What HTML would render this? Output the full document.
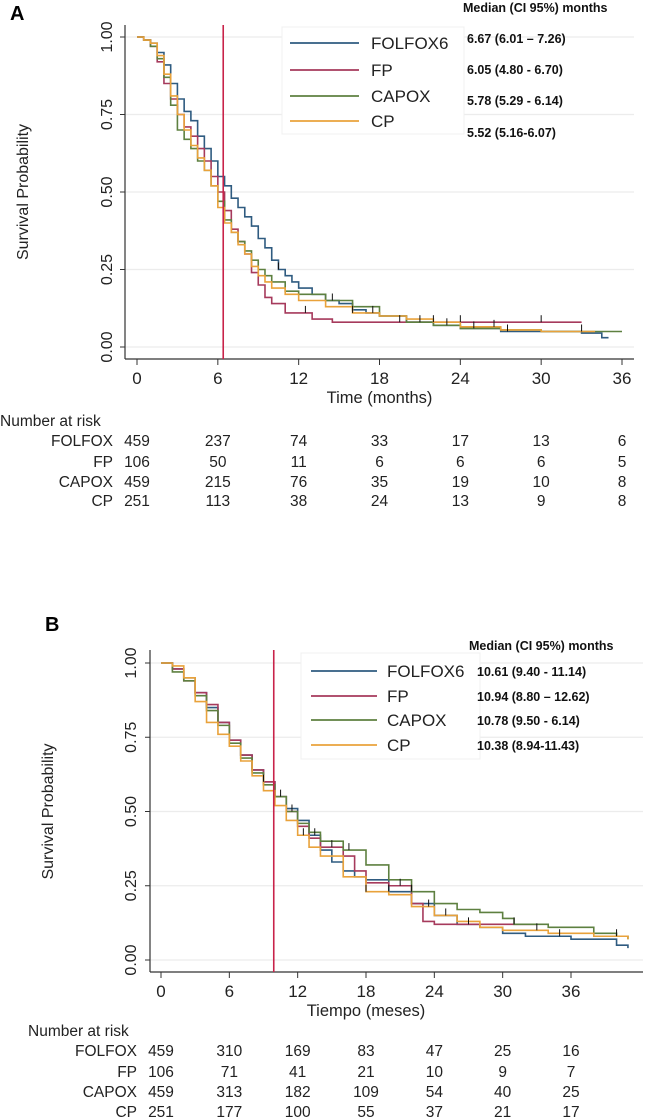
<!DOCTYPE html>
<html><head><meta charset="utf-8">
<style>
html,body{margin:0;padding:0;background:#fff;}
svg{display:block;font-family:"Liberation Sans",Arial,sans-serif;}
</style></head>
<body>
<svg id="fig" width="646" height="1119" viewBox="0 0 646 1119" xmlns="http://www.w3.org/2000/svg"></svg>
<script>
// ---------- DATA ----------
const seriesNames = ["FOLFOX6","FP","CAPOX","CP"];
const riskNames = ["FOLFOX","FP","CAPOX","CP"];
const colors = ["#2f5b80","#a63a5c","#5e8040","#e9a23b"];

const xTicksA = [0,6,12,18,24,30,36];
const yTicks = [0,0.25,0.5,0.75,1];
const yTickLabels = ["0.00","0.25","0.50","0.75","1.00"];

const aFolfoxT = [0,0.5,1,1.5,2,2.5,3,3.5,4,4.5,5,5.5,6,6.5,7,7.5,8,8.5,9,9.5,10,10.5,11,11.5,12,13,14,15,16,17,18,20,22,24,27,30,33,34.5,35];
const aFolfoxS = [1,0.99,0.98,0.95,0.91,0.85,0.80,0.76,0.73,0.68,0.64,0.60,0.55,0.52,0.48,0.45,0.42,0.39,0.35,0.32,0.28,0.25,0.23,0.21,0.19,0.17,0.15,0.14,0.12,0.11,0.10,0.08,0.07,0.06,0.05,0.05,0.045,0.03,0.03];
const aFpT = [0,0.5,1,1.5,2,2.5,3,3.5,4,4.5,5,5.5,6,6.5,7,7.5,8,8.5,9,9.5,10,11,12,13,14.5,33];
const aFpS = [1,0.99,0.97,0.92,0.85,0.80,0.75,0.71,0.68,0.64,0.60,0.55,0.50,0.44,0.38,0.34,0.30,0.24,0.20,0.16,0.14,0.11,0.11,0.09,0.08,0.08];
const aCapoxT = [0,0.5,1,1.5,2,2.5,3,3.5,4,4.5,5,5.5,6,6.5,7,7.5,8,8.5,9,9.5,10,11,12,14,16,18,20,22,24,27,30,36];
const aCapoxS = [1,0.99,0.97,0.93,0.87,0.78,0.70,0.67,0.64,0.60,0.57,0.52,0.47,0.41,0.37,0.34,0.31,0.28,0.25,0.23,0.21,0.18,0.17,0.15,0.13,0.10,0.08,0.07,0.06,0.055,0.05,0.05];
const aCpT = [0,0.5,1,1.5,2,2.5,3,3.5,4,4.5,5,5.5,6,6.5,7,7.5,8,8.5,9,9.5,10,11,12,14,16,18,20,22,24,27,30,34];
const aCpS = [1,0.99,0.98,0.94,0.88,0.81,0.75,0.70,0.65,0.61,0.57,0.52,0.45,0.40,0.37,0.33,0.30,0.26,0.23,0.21,0.19,0.17,0.15,0.13,0.11,0.10,0.09,0.08,0.065,0.055,0.05,0.05];
const aMedians = ["6.67 (6.01 \u2013 7.26)","6.05 (4.80 - 6.70)","5.78 (5.29 - 6.14)","5.52 (5.16-6.07)"];
const aRisk = [[459,237,74,33,17,13,6],[106,50,11,6,6,6,5],[459,215,76,35,19,10,8],[251,113,38,24,13,9,8]];
const aMedianLine = 6.4;
const aCensor = [10.5,12.5,14.5,16,17.5,19.5,21,22,23,24,25,26.5,27.5,30,33,35.5];

const xTicksB = [0,6,12,18,24,30,36];
const bFolfoxT = [0,1,2,3,4,5,6,7,8,9,10,11,12,13,14,15,16,17,18,20,22,24,26,28,30,32,36,40,41];
const bFolfoxS = [1,0.98,0.95,0.90,0.85,0.80,0.74,0.69,0.64,0.60,0.55,0.51,0.47,0.42,0.37,0.33,0.30,0.28,0.27,0.23,0.19,0.15,0.12,0.11,0.09,0.08,0.07,0.05,0.04];
const bFpT = [0,1,2,3,4,5,6,7,8,9,10,11,12,13,14,15,16,17,18,20,22,23,24,28,33];
const bFpS = [1,0.98,0.94,0.90,0.86,0.80,0.74,0.69,0.64,0.60,0.55,0.50,0.45,0.41,0.38,0.38,0.35,0.30,0.26,0.25,0.19,0.13,0.12,0.12,0.12];
const bCapoxT = [0,1,2,3,4,5,6,7,8,9,10,11,12,13,14,16,18,20,22,24,26,28,30,31,34,38,40,41];
const bCapoxS = [1,0.97,0.94,0.89,0.84,0.79,0.73,0.68,0.63,0.59,0.55,0.50,0.46,0.43,0.40,0.37,0.32,0.27,0.23,0.19,0.17,0.16,0.14,0.12,0.11,0.09,0.08,0.07];
const bCpT = [0,1,2,3,4,5,6,7,8,9,10,11,12,13,14,16,18,20,22,24,26,28,30,34,38,41];
const bCpS = [1,0.99,0.95,0.87,0.80,0.76,0.72,0.67,0.62,0.57,0.52,0.47,0.42,0.38,0.35,0.28,0.23,0.22,0.18,0.15,0.13,0.11,0.10,0.09,0.08,0.07];
const bMedians = ["10.61 (9.40 - 11.14)","10.94 (8.80 \u2013 12.62)","10.78 (9.50 - 6.14)","10.38 (8.94-11.43)"];
const bRisk = [[459,310,169,83,47,25,16],[106,71,41,21,10,9,7],[459,313,182,109,54,40,25],[251,177,100,55,37,21,17]];
const bMedianLine = 9.9;
const bCensor = [9,10.5,11.5,12.5,13.5,15,16.5,18,20,21,22,23.5,25,27,31,33,35,37,40];

// ---------- DRAWING ----------
const NS = "http://www.w3.org/2000/svg";
const svg = document.getElementById("fig");
function el(tag, attrs, parent, text){
  const e = document.createElementNS(NS, tag);
  for (const k in attrs) e.setAttribute(k, attrs[k]);
  if (text !== undefined) e.textContent = text;
  (parent || svg).appendChild(e);
  return e;
}
function stepSurvival(T, S, t){
  let v = S[0];
  for (let i=0;i<T.length;i++){ if (T[i] <= t) v = S[i]; }
  return v;
}

function panel(cfg){
  const g = el("g", {});
  
  
  const xs = t => cfg.x0 + t * cfg.pxPerMonth;
  const ys = s => cfg.y0 - s * cfg.pxPerUnit;

  const lbl = el("text", {x:cfg.letterX, y:cfg.letterY, "font-size":20, "font-weight":"bold", fill:"#000"}, g, cfg.letter);
  
  

  yTicks.forEach(v => {
    const gl = el("line", {x1:cfg.axisX, x2:cfg.axisRight, y1:ys(v), y2:ys(v), stroke:"#ececec", "stroke-width":1.2}, g);
    
    
  });
  const ya = el("line", {x1:cfg.axisX, x2:cfg.axisX, y1:cfg.axisTop, y2:cfg.axisBottom, stroke:"#333", "stroke-width":1.2}, g);
  
  
  const xa = el("line", {x1:cfg.axisX, x2:cfg.axisRight, y1:cfg.axisBottom, y2:cfg.axisBottom, stroke:"#333", "stroke-width":1.2}, g);
  
  

  yTicks.forEach((v,i) => {
    const tk = el("line", {x1:cfg.axisX-5, x2:cfg.axisX, y1:ys(v), y2:ys(v), stroke:"#333"}, g);
    
    
    const tx = el("text", {x:cfg.yLabelX, y:ys(v), "font-size":16, "text-anchor":"middle", transform:`rotate(-90 ${cfg.yLabelX} ${ys(v)})`, fill:"#222"}, g, yTickLabels[i]);
    
    
  });
  cfg.xTicks.forEach(v => {
    const tk = el("line", {x1:xs(v), x2:xs(v), y1:cfg.axisBottom, y2:cfg.axisBottom+6, stroke:"#333"}, g);
    
    
    const tx = el("text", {x:xs(v), y:cfg.axisBottom+25, "font-size":17, "text-anchor":"middle", fill:"#222"}, g, String(v));
    
    
  });
  const xt = el("text", {x:(xs(0)+xs(36))/2, y:cfg.axisBottom+44, "font-size":16.5, "text-anchor":"middle", fill:"#222"}, g, cfg.xTitle);
  
  
  const yt = el("text", {x:cfg.yTitleX, y:ys(0.5), "font-size":16, "text-anchor":"middle", transform:`rotate(-90 ${cfg.yTitleX} ${ys(0.5)})`, fill:"#222"}, g, "Survival Probability");
  
  

  cfg.curves.forEach((c,i) => {
    const T = c[0], S = c[1];
    let d = `M${xs(T[0])},${ys(S[0])}`;
    for (let k=1;k<T.length;k++){
      d += ` H${xs(T[k])} V${ys(S[k])}`;
    }
    const p = el("path", {d:d, fill:"none", stroke:colors[i], "stroke-width":1.6}, g);
    
    
  });
  cfg.censor.forEach((t,j) => {
    const c = cfg.curves[j % 4];
    const T = c[0], S = c[1];
    if (t > T[T.length-1]) return;
    const s = stepSurvival(T, S, t);
    const m = el("line", {x1:xs(t), x2:xs(t), y1:ys(s), y2:ys(s)-7, stroke:"#111", "stroke-width":1}, g);
    
    
  });
  const ml = el("line", {x1:xs(cfg.medianLine), x2:xs(cfg.medianLine), y1:cfg.axisTop, y2:cfg.axisBottom, stroke:"#c8234a", "stroke-width":1.6}, g);
  
  

  const lg = el("g", {}, g);
  
  
  el("rect", {x:cfg.legX, y:cfg.legY, width:cfg.legW, height:cfg.legH, fill:"#fff", stroke:"#f0f0f0"}, lg);
  seriesNames.forEach((n,i) => {
    const yy = cfg.legEntryY[i];
    const ln = el("line", {x1:cfg.legLineX1, x2:cfg.legLineX2, y1:yy, y2:yy, stroke:colors[i], "stroke-width":1.8}, lg);
    
    
    const tx = el("text", {x:cfg.legTextX, y:yy+6, "font-size":17, fill:"#222"}, lg, n);
    
    
    const md = el("text", {x:cfg.medX, y:cfg.medY[i]+5, "font-size":12.5, "font-weight":"bold", fill:"#111"}, lg, cfg.medians[i]);
    
    
  });
  const mh = el("text", {x:cfg.medHeadX, y:cfg.medHeadY, "font-size":12.5, "font-weight":"bold", fill:"#111"}, g, "Median (CI 95%) months");
  
  

  const rt = el("g", {}, g);
  
  
  const rh = el("text", {x:cfg.riskHeadX, y:cfg.riskHeadY, "font-size":15.5, fill:"#222"}, rt, "Number at risk");
  
  
  riskNames.forEach((n,i) => {
    const yy = cfg.riskRowY[i];
    const nt = el("text", {x:cfg.riskLabelRight, y:yy, "font-size":15.5, "text-anchor":"end", fill:"#222"}, rt, n);
    
    
    cfg.risk[i].forEach((v,k) => {
      const c = el("text", {x:xs(cfg.xTicks[k]), y:yy, "font-size":15.5, "text-anchor":"middle", fill:"#222"}, rt, String(v));
      
      
    });
  });
}

panel({
  id:"a", letter:"A", letterX:10, letterY:20,
  x0:137, pxPerMonth:(622-137)/36, y0:347, pxPerUnit:310,
  axisX:125, axisRight:634, axisTop:25, axisBottom:359,
  yLabelX:112, yTitleX:28, xTicks:xTicksA, xTitle:"Time (months)",
  curves:[[aFolfoxT,aFolfoxS],[aFpT,aFpS],[aCapoxT,aCapoxS],[aCpT,aCpS]],
  censor:aCensor, medianLine:aMedianLine,
  legX:282, legY:27, legW:182, legH:107,
  legEntryY:[43,70,96,121], legLineX1:290, legLineX2:359, legTextX:371,
  medX:467, medY:[38,69,100,132], medians:aMedians,
  medHeadX:463, medHeadY:12,
  riskHeadX:0, riskHeadY:426, riskLabelRight:113, riskRowY:[446,467,487,506], risk:aRisk
});
panel({
  id:"b", letter:"B", letterX:45, letterY:631,
  x0:161, pxPerMonth:(571-161)/36, y0:960, pxPerUnit:297,
  axisX:150, axisRight:643, axisTop:650, axisBottom:972,
  yLabelX:136, yTitleX:53, xTicks:xTicksB, xTitle:"Tiempo (meses)",
  curves:[[bFolfoxT,bFolfoxS],[bFpT,bFpS],[bCapoxT,bCapoxS],[bCpT,bCpS]],
  censor:bCensor, medianLine:bMedianLine,
  legX:301, legY:653, legW:179, legH:106,
  legEntryY:[671,696,720,745], legLineX1:311, legLineX2:377, legTextX:387,
  medX:477, medY:[671,696,720,745], medians:bMedians,
  medHeadX:469, medHeadY:650,
  riskHeadX:28, riskHeadY:1036, riskLabelRight:137, riskRowY:[1056,1077,1097,1117], risk:bRisk
});
</script>
</body></html>
